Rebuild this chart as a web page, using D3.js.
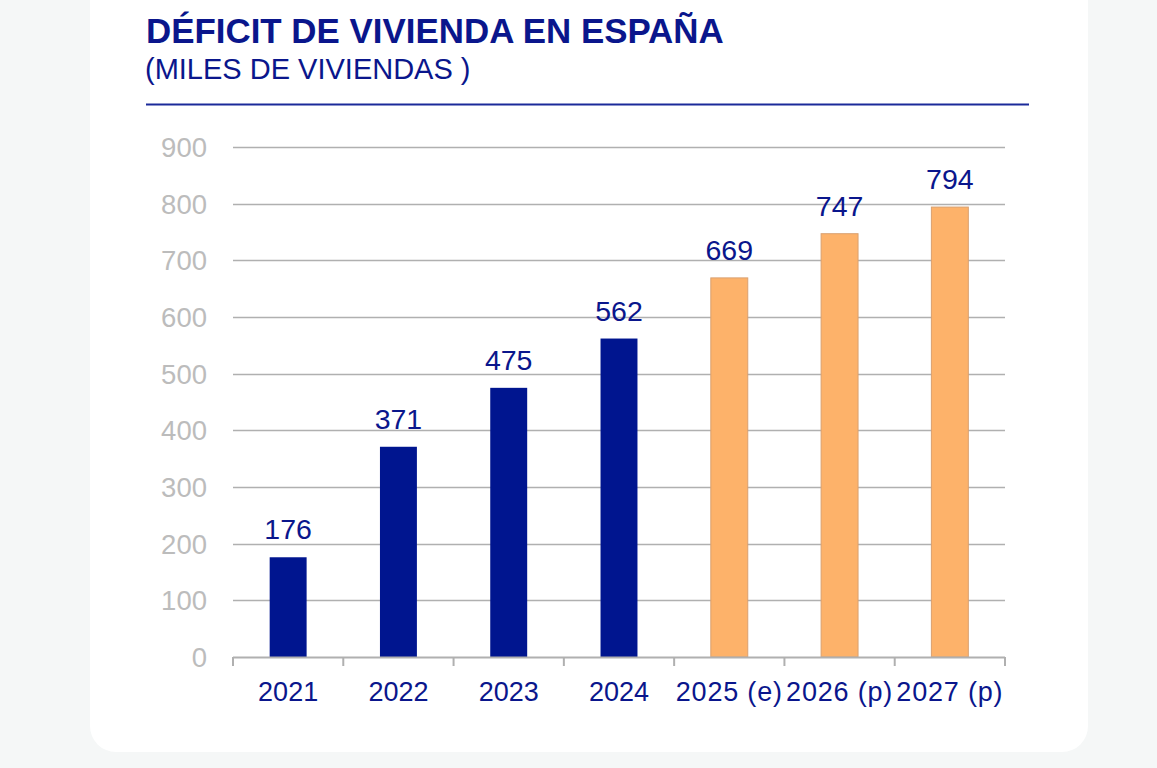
<!DOCTYPE html>
<html>
  <head>
    <meta charset="utf-8" />
    <script src="https://d3js.org/d3.v7.min.js"></script>
    <style>
      html,
      body {
        margin: 0;
        padding: 0;
        background: #f5f7f7;
        font-family: "Liberation Sans", Arial, sans-serif;
      }
    </style>
    <title>Déficit de vivienda</title>
  </head>
  <body>
    <svg id="chart" width="1157" height="768"></svg>

    <script>
      // data
      var years = ["2021", "2022", "2023", "2024", "2025 (e)", "2026 (p)", "2027 (p)"];
      var deficit = [176, 371, 475, 562, 669, 747, 794];
      var forecast = [false, false, false, false, true, true, true];
      var yTicks = [0, 100, 200, 300, 400, 500, 600, 700, 800, 900];

      var navy = "#0a168c";
      var barBlue = "#00158f";
      var orange = "#fdb26a";

      var svg = d3.select("#chart");

      // white card
      svg
        .append("rect")
        .attr("x", 90)
        .attr("y", -40)
        .attr("width", 998)
        .attr("height", 792)
        .attr("rx", 26)
        .style("fill", "#ffffff");

      svg
        .append("text")
        .attr("x", 146)
        .attr("y", 43)
        .style("font-size", "34.9px")
        .style("font-weight", "bold")
        .style("fill", navy)
        .text("DÉFICIT DE VIVIENDA EN ESPAÑA");

      svg
        .append("text")
        .attr("x", 145)
        .attr("y", 79)
        .style("font-size", "29px")
        .style("fill", navy)
        .text("(MILES DE VIVIENDAS )");

      svg
        .append("line")
        .attr("x1", 146)
        .attr("x2", 1029)
        .attr("y1", 104.5)
        .attr("y2", 104.5)
        .style("stroke", "#1b2a9a")
        .style("stroke-width", "2px");

      var plotLeft = 233,
        plotRight = 1005,
        plotTop = 147,
        plotBottom = 657;

      var x = d3
        .scaleBand()
        .domain(years)
        .range([plotLeft, plotRight])
        .paddingInner(0.665)
        .paddingOuter(0.3325);
      var y = d3.scaleLinear().domain([0, 900]).range([plotBottom, plotTop]);

      var g = svg.append("g");

      // gridlines
      g.selectAll("line.grid")
        .data(yTicks.filter((t) => t > 0))
        .enter()
        .append("line")
        .attr("class", "grid")
        .attr("x1", plotLeft)
        .attr("x2", plotRight)
        .attr("y1", (d) => Math.round(y(d)) + 0.5)
        .attr("y2", (d) => Math.round(y(d)) + 0.5)
        .style("stroke", "#b0b0b0")
        .style("stroke-width", "1.6px");

      // y tick labels
      g.selectAll("text.ylab")
        .data(yTicks)
        .enter()
        .append("text")
        .attr("class", "ylab")
        .attr("x", 207)
        .attr("y", (d) => y(d))
        .attr("dy", "0.36em")
        .attr("text-anchor", "end")
        .style("font-size", "27.5px")
        .style("fill", "#bcbcbc")
        .text((d) => d);

      // bars
      g.selectAll("rect.bar")
        .data(years)
        .enter()
        .append("rect")
        .attr("class", "bar")
        .attr("x", (d) => x(d))
        .attr("width", x.bandwidth())
        .attr("y", (d, i) => y(deficit[i]))
        .attr("height", (d, i) => y(0) - y(deficit[i]))
        .style("fill", (d, i) => (forecast[i] ? orange : barBlue))
        .style("stroke", (d, i) => (forecast[i] ? "#d9a070" : "none"))
        .style("stroke-width", "1px");

      // value labels
      g.selectAll("text.val")
        .data(years)
        .enter()
        .append("text")
        .attr("class", "val")
        .attr("x", (d) => x(d) + x.bandwidth() / 2)
        .attr("y", (d, i) => y(deficit[i]) - 18)
        .attr("text-anchor", "middle")
        .style("font-size", "28.5px")
        .style("fill", navy)
        .text((d, i) => deficit[i]);

      // x axis
      var step = x.step();
      var boundaries = d3.range(years.length + 1).map((i) => plotLeft + i * step);

      g.append("line")
        .attr("x1", plotLeft)
        .attr("x2", plotRight)
        .attr("y1", plotBottom + 0.5)
        .attr("y2", plotBottom + 0.5)
        .style("stroke", "#b0b0b0")
        .style("stroke-width", "2px");

      g.selectAll("line.tick")
        .data(boundaries)
        .enter()
        .append("line")
        .attr("class", "tick")
        .attr("x1", (d) => d)
        .attr("x2", (d) => d)
        .attr("y1", plotBottom)
        .attr("y2", plotBottom + 9)
        .style("stroke", "#b0b0b0")
        .style("stroke-width", "2px");

      g.selectAll("text.xlab")
        .data(years)
        .enter()
        .append("text")
        .attr("class", "xlab")
        .attr("x", (d) => x(d) + x.bandwidth() / 2)
        .attr("y", 701)
        .attr("text-anchor", "middle")
        .style("font-size", "27px")
        .style("letter-spacing", (d) => (d.length > 4 ? "0.8px" : "0px"))
        .style("fill", navy)
        .text((d) => d);
    </script>
  </body>
</html>
